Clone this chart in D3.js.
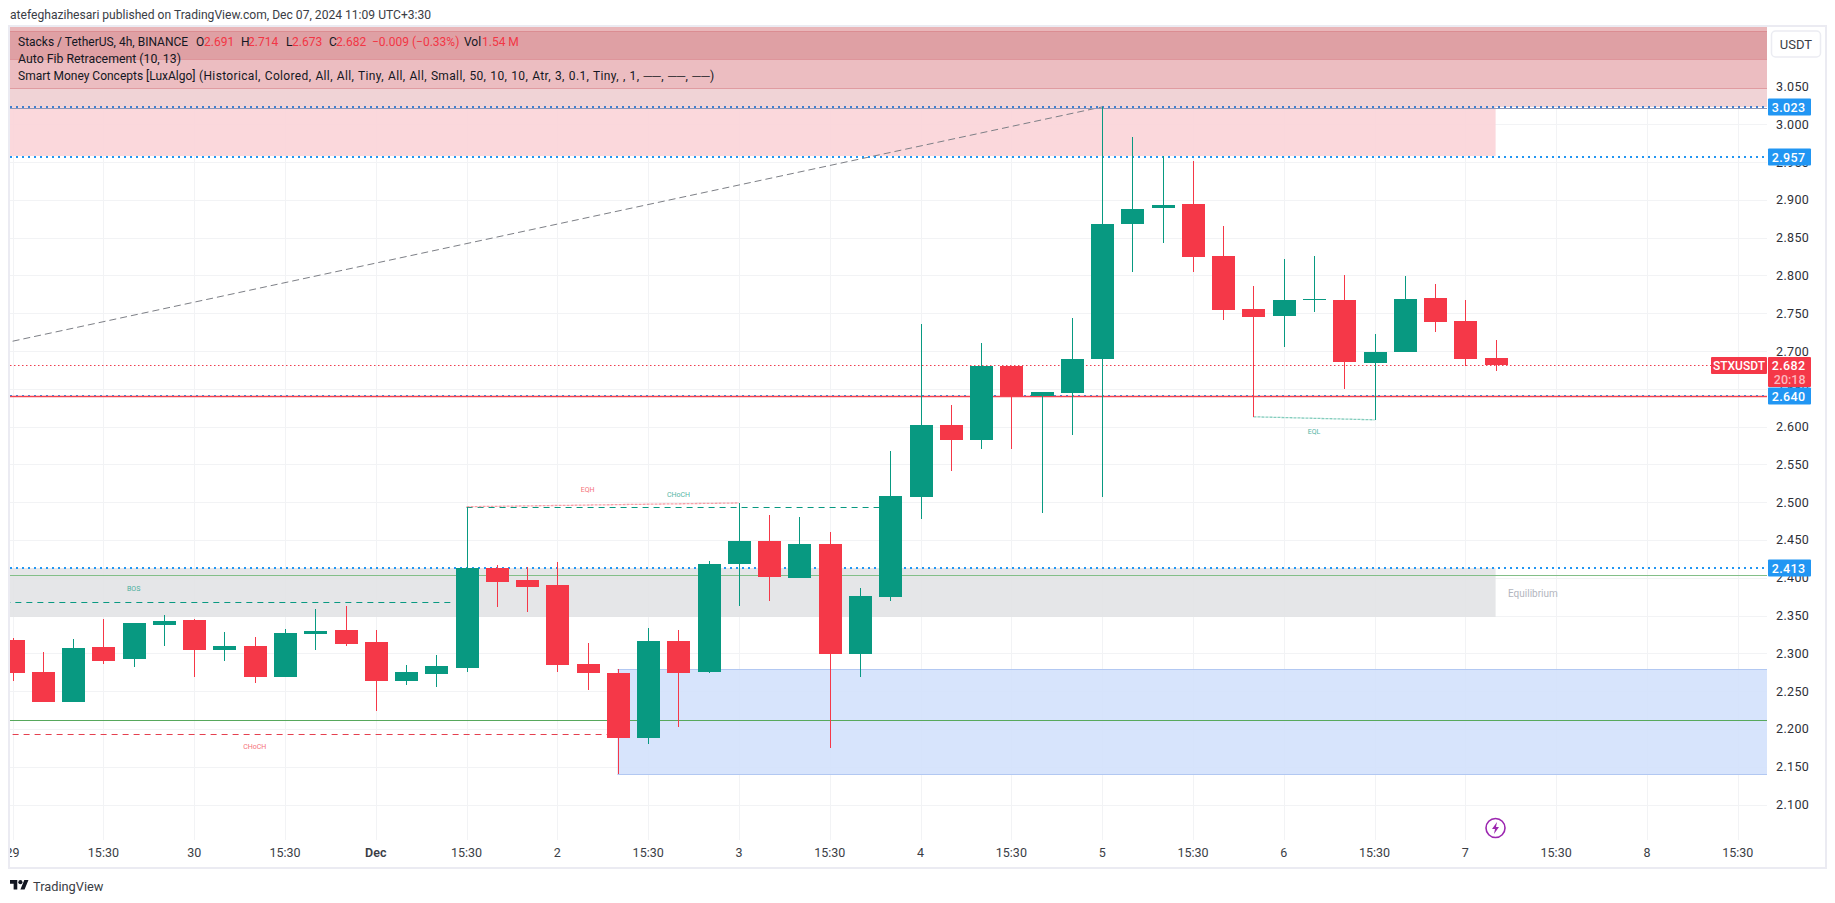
<!DOCTYPE html>
<html>
<head>
<meta charset="utf-8">
<script src="https://cdnjs.cloudflare.com/ajax/libs/d3/7.9.0/d3.min.js"></script>
<style>
html,body{margin:0;padding:0;background:#fff;overflow:hidden}
svg{display:block}
text{font-family:Roboto,"Noto Sans",sans-serif}
</style>
</head>
<body>
<svg id="c" width="1835" height="903"></svg>
<script>
// 4h candles, index 0 = Nov 29 03:30
const opens  = [2.318,2.275,2.236,2.308,2.293,2.338,2.344,2.304,2.310,2.269,2.326,2.331,2.315,2.263,2.273,2.281,2.413,2.397,2.391,2.286,2.274,2.188,2.316,2.275,2.418,2.449,2.400,2.445,2.299,2.375,2.507,2.602,2.582,2.680,2.641,2.645,2.690,2.868,2.889,2.895,2.826,2.756,2.746,2.768,2.768,2.684,2.699,2.770,2.740,2.691];
const highs  = [2.320,2.302,2.319,2.345,2.340,2.351,2.345,2.328,2.322,2.332,2.359,2.363,2.331,2.285,2.298,2.494,2.417,2.414,2.421,2.314,2.279,2.334,2.331,2.422,2.499,2.483,2.480,2.461,2.387,2.568,2.736,2.629,2.711,2.680,2.646,2.744,3.023,2.983,2.958,2.952,2.866,2.786,2.822,2.826,2.801,2.723,2.799,2.789,2.768,2.714];
const lows   = [2.263,2.236,2.236,2.286,2.282,2.310,2.269,2.290,2.261,2.269,2.304,2.310,2.224,2.258,2.256,2.275,2.361,2.355,2.275,2.252,2.140,2.180,2.203,2.274,2.363,2.369,2.400,2.175,2.269,2.369,2.478,2.541,2.570,2.570,2.486,2.589,2.507,2.805,2.843,2.805,2.741,2.613,2.705,2.752,2.650,2.609,2.699,2.725,2.680,2.673];
const closes = [2.274,2.236,2.307,2.290,2.340,2.343,2.304,2.310,2.269,2.327,2.330,2.312,2.263,2.275,2.283,2.413,2.394,2.388,2.285,2.274,2.188,2.316,2.274,2.418,2.449,2.401,2.445,2.299,2.376,2.508,2.602,2.582,2.680,2.641,2.646,2.690,2.868,2.888,2.893,2.825,2.754,2.745,2.768,2.769,2.686,2.699,2.769,2.739,2.690,2.682];

const priceTicks = [2.1,2.15,2.2,2.25,2.3,2.35,2.4,2.45,2.5,2.55,2.6,2.65,2.7,2.75,2.8,2.85,2.9,2.95,3.0,3.05];
const gridOnlyPrices = [3.1];
const timeTickIdx = [0,3,6,9,12,15,18,21,24,27,30,33,36,39,42,45,48,51,54,57];
const timeTickLabels = ["29","15:30","30","15:30","Dec","15:30","2","15:30","3","15:30","4","15:30","5","15:30","6","15:30","7","15:30","8","15:30"];

// zones: [top price, bottom price]
const upperBandEdges = [3.129,3.123,3.087,3.048,3.023];
const upperBandFills = ["#e8b2b6","#dd9a9e","#ebb9bd","#efd0d3"];
const premiumZone = [3.023,2.958];
const equilibriumZone = [2.413,2.348];
const demandZone = [2.279,2.140];
const levelLines = [3.023,2.957,2.640,2.413];
const levelLabels = ["3.023","2.957","2.640","2.413"];
const lastPrice = 2.682;
const green1 = 2.404, green2 = 2.212, redLine = 2.640;
const fibLine = [{i:0,p:2.713},{i:36,p:3.023}];
const bos = {i0:-1,i1:14.5,p:2.368};
const chochDown = {i0:0,i1:20,p:2.193};
const chochUp = {i0:15,i1:29,p:2.494};
const eqh = [{i:15,p:2.494},{i:24,p:2.499}];
const eql = [{i:41,p:2.613},{i:45,p:2.609}];
const zoneEndIdx = 49;
const demandStartIdx = 20;
const legendRow1 = ["Stacks / TetherUS, 4h, BINANCE","O","2.691","H","2.714","L","2.673","C","2.682","−0.009 (−0.33%)","Vol","1.54 M"];
const legendRow1Red = [false,false,true,false,true,false,true,false,true,true,false,true];
const legendRow1X = [18,196,204,241,248,286,292,329,336,372,464,482];

const L=10,R=1767,T=27,B=840;
const x=d3.scaleLinear().domain([0,49]).range([12.6,1495.6]);
const y=d3.scaleLinear().domain([3,2.1]).range([124.3,804.5]);
const svg=d3.select("#c");
const GREEN="#089981",RED="#f23645",RED2="#f53848",BLUE="#2196f3";

svg.append("defs").append("clipPath").attr("id","pane").append("rect").attr("x",L).attr("y",T).attr("width",R-L).attr("height",B-T);
svg.append("defs").append("clipPath").attr("id","timeclip").append("rect").attr("x",L).attr("y",B).attr("width",1825-L).attr("height",27);

// outer frame
svg.append("rect").attr("x",L-1).attr("y",T-1).attr("width",1825-L+2).attr("height",867-T+2).attr("fill","none").attr("stroke","#ebebf2").attr("stroke-width",2);

const pane=svg.append("g").attr("clip-path","url(#pane)");
const px=v=>Math.round(v)+.5;

// grid
pane.append("g").selectAll("line").data(priceTicks.concat(gridOnlyPrices)).join("line")
 .attr("x1",L).attr("x2",R).attr("y1",d=>px(y(d))).attr("y2",d=>px(y(d))).attr("stroke","#f2f3f5");
pane.append("g").selectAll("line").data(timeTickIdx).join("line")
 .attr("y1",T).attr("y2",B).attr("x1",d=>px(x(d))).attr("x2",d=>px(x(d))).attr("stroke","#f2f3f5");

// zones
const band=(g,top,bot,x0,x1,fill,op)=>g.append("rect").attr("x",x0).attr("width",x1-x0)
 .attr("y",Math.round(y(top))).attr("height",Math.round(y(bot))-Math.round(y(top))).attr("fill",fill).attr("fill-opacity",op);
upperBandFills.forEach((f,k)=>{band(pane,upperBandEdges[k],upperBandEdges[k+1],L,R,f,.94);});
[upperBandEdges[1],upperBandEdges[2],upperBandEdges[3]].forEach(p=>{
 pane.append("line").attr("x1",L).attr("x2",R).attr("y1",px(y(p))).attr("y2",px(y(p))).attr("stroke","#d9858a").attr("stroke-opacity",.7);
});
band(pane,premiumZone[0],premiumZone[1],L,x(zoneEndIdx),"#fbd5d9",.92);
band(pane,equilibriumZone[0],equilibriumZone[1],L,x(zoneEndIdx),"#e2e3e5",.9);
band(pane,demandZone[0],demandZone[1],x(demandStartIdx)-.5,R,"#d2e0fc",.88);
[demandZone[0],demandZone[1]].forEach(p=>{
 pane.append("line").attr("x1",x(demandStartIdx)-.5).attr("x2",R).attr("y1",px(y(p))).attr("y2",px(y(p))).attr("stroke","#b2c8f2");
});

// fib line
pane.append("path").datum(fibLine).attr("d",d3.line().x(d=>x(d.i)).y(d=>y(d.p))).attr("fill","none").attr("stroke","#7d7f86").attr("stroke-width",1).attr("stroke-dasharray","7 4");

// horizontal structure lines
const hline=(p,c,w,dash,x0=L,x1=R)=>pane.append("line").attr("x1",x0).attr("x2",x1).attr("y1",px(y(p))).attr("y2",px(y(p))).attr("stroke",c).attr("stroke-width",w).attr("stroke-dasharray",dash||null);
hline(green1,"#83bf88",1);
hline(green2,"#57a85c",1);
hline(bos.p,GREEN,1,"6 5",x(bos.i0),x(bos.i1));
hline(chochDown.p,"#e5404f",1,"6 5",x(chochDown.i0),x(chochDown.i1));
hline(chochUp.p,GREEN,1,"6 5",x(chochUp.i0),x(chochUp.i1));
pane.append("path").datum(eqh).attr("d",d3.line().x(d=>x(d.i)).y(d=>y(d.p))).attr("fill","none").attr("stroke","#f7a0a8").attr("stroke-width",1.3).attr("stroke-dasharray","3 1");
pane.append("path").datum(eql).attr("d",d3.line().x(d=>x(d.i)).y(d=>y(d.p))).attr("fill","none").attr("stroke","#83cdbd").attr("stroke-width",1.3).attr("stroke-dasharray","3 1");

// level lines
pane.append("line").attr("x1",L).attr("x2",R).attr("y1",px(y(3.023))+1).attr("y2",px(y(3.023))+1).attr("stroke","#8d97b8");
levelLines.forEach(p=>{
 pane.append("line").attr("x1",L).attr("x2",R).attr("y1",Math.round(y(p))).attr("y2",Math.round(y(p))).attr("stroke",p===3.023?"#3f7fd0":BLUE).attr("stroke-width",2).attr("stroke-dasharray","2 4");
});
hline(redLine,"#f4424f",1.4);
hline(lastPrice,"#ee3f50",1,"1.5 2.5");

// candles
const cd=opens.map((o,i)=>({i,o,h:highs[i],l:lows[i],c:closes[i]}));
const col=d=>d.c>=d.o?GREEN:RED2;
const cg=pane.append("g").attr("shape-rendering","crispEdges");
cg.selectAll("line").data(cd).join("line")
 .attr("x1",d=>px(x(d.i))).attr("x2",d=>px(x(d.i))).attr("y1",d=>y(d.h)).attr("y2",d=>y(d.l)).attr("stroke",col);
cg.selectAll("rect").data(cd).join("rect")
 .attr("x",d=>Math.round(x(d.i))-11).attr("width",23)
 .attr("y",d=>Math.round(y(Math.max(d.o,d.c))))
 .attr("height",d=>Math.max(1,Math.round(y(Math.min(d.o,d.c)))-Math.round(y(Math.max(d.o,d.c)))))
 .attr("fill",col);

// tiny labels
const tiny=(t,i,p,c)=>pane.append("text").attr("x",x(i)).attr("y",y(p)).attr("text-anchor","middle").attr("dominant-baseline","central").attr("font-size",7).attr("fill",c).attr("opacity",.72).text(t);
tiny("BOS",4,2.385,GREEN);
tiny("CHoCH",8,2.176,RED);
tiny("EQH",19,2.516,RED);
tiny("CHoCH",22,2.509,GREEN);
tiny("EQL",43,2.593,GREEN);
pane.append("text").attr("x",1508).attr("y",y(2.379)).attr("dominant-baseline","central").attr("font-size",10).attr("fill","#b2b5be").text("Equilibrium");

// axes
const yAxis=d3.axisRight(y).tickValues(priceTicks).tickFormat(d3.format(".3f")).tickSize(0).tickPadding(0);
const ya=svg.append("g").attr("transform","translate(1776,0)").call(yAxis);
ya.select(".domain").remove();
ya.selectAll("text").attr("font-size",12.5).attr("fill","#2e3038").attr("letter-spacing",".35").style("font-family","Roboto,sans-serif");

const xAxis=d3.axisBottom(x).tickValues(timeTickIdx).tickFormat((d,k)=>timeTickLabels[k]).tickSize(0).tickPadding(0);
const xa=svg.append("g").attr("clip-path","url(#timeclip)").append("g").attr("transform","translate(-.5,848)").call(xAxis);
xa.select(".domain").remove();
xa.selectAll("text").attr("font-size",12.5).attr("fill","#3a3d45").style("font-family","Roboto,sans-serif").attr("font-weight",d=>d===12?600:400);

// price tags
const tag=(p,t,fill)=>{const yy=Math.round(y(p));
 svg.append("rect").attr("x",1768).attr("y",yy-8.5).attr("width",43).attr("height",17).attr("rx",1).attr("fill",fill);
 svg.append("text").attr("x",1805.5).attr("y",yy).attr("text-anchor","end").attr("dominant-baseline","central").attr("font-size",12.5).attr("font-weight",500).attr("letter-spacing",".35").attr("fill","#fff").text(t);};
levelLines.forEach((p,k)=>tag(p,levelLabels[k],BLUE));
const ly=Math.round(y(lastPrice));
svg.append("rect").attr("x",1711).attr("y",ly-8).attr("width",56).attr("height",17).attr("rx",1).attr("fill",RED2);
svg.append("text").attr("x",1739).attr("y",ly+.5).attr("text-anchor","middle").attr("dominant-baseline","central").attr("font-size",12).attr("font-weight",500).attr("fill","#fff").text("STXUSDT");
svg.append("rect").attr("x",1768).attr("y",ly-8).attr("width",43).attr("height",30).attr("rx",1).attr("fill",RED2);
svg.append("text").attr("x",1805.5).attr("y",ly+.5).attr("text-anchor","end").attr("dominant-baseline","central").attr("font-size",12.5).attr("font-weight",500).attr("letter-spacing",".35").attr("fill","#fff").text(lastPrice.toFixed(3));
svg.append("text").attr("x",1805.5).attr("y",ly+14.5).attr("text-anchor","end").attr("dominant-baseline","central").attr("font-size",12.5).attr("font-weight",500).attr("fill","#fbb9bf").text("20:18");

// USDT button
svg.append("rect").attr("x",1771.5).attr("y",31).attr("width",49).attr("height",26).attr("rx",4).attr("fill","#fff").attr("stroke","#ebecf2").attr("stroke-width",1.5);
svg.append("text").attr("x",1796).attr("y",44.5).attr("text-anchor","middle").attr("dominant-baseline","central").attr("font-size",13).attr("fill","#3a3d45").text("USDT");

// header and legend
svg.append("text").attr("x",10).attr("y",15).attr("dominant-baseline","central").attr("font-size",12.1).attr("fill","#3a3d45").text("atefeghazihesari published on TradingView.com, Dec 07, 2024 11:09 UTC+3:30");
legendRow1.forEach((t,k)=>svg.append("text").attr("x",legendRow1X[k]).attr("y",42).attr("dominant-baseline","central").attr("font-size",12).attr("fill",legendRow1Red[k]?RED:"#131722").text(t));
svg.append("text").attr("x",18).attr("y",59).attr("dominant-baseline","central").attr("font-size",12.3).attr("fill","#131722").text("Auto Fib Retracement (10, 13)");
const l3=svg.append("text").attr("x",18).attr("y",76).attr("dominant-baseline","central").attr("font-size",12).attr("fill","#131722");
l3.append("tspan").text("Smart Money Concepts [LuxAlgo]");
l3.append("tspan").attr("x",199).attr("letter-spacing",".35").attr("word-spacing",".7").text("(Historical, Colored, All, All, Tiny, All, All, Small, 50, 10, 10, Atr, 3, 0.1, Tiny, , 1, ──, ──, ──)");

// lightning icon
const ic=svg.append("g").attr("transform","translate(1495.5,828)");
ic.append("circle").attr("r",9.5).attr("fill","#fff").attr("stroke","#9c27b0").attr("stroke-width",1.6);
ic.append("path").attr("d","M1.5,-6 L-3.5,1 L-0.5,1 L-1.5,6 L3.5,-1 L0.5,-1 Z").attr("fill","#9c27b0");

// logo
const lo=svg.append("g").attr("transform","translate(10,878) scale(.52)").attr("fill","#131722");
lo.append("path").attr("d","M14 22H7V11H0V4h14v18zM28 22h-8l7.5-18h8L28 22z");
lo.append("circle").attr("cx",20).attr("cy",8).attr("r",4);
svg.append("text").attr("x",33).attr("y",886).attr("dominant-baseline","central").attr("font-size",12.8).attr("fill","#3a3d45").text("TradingView");
</script>
</body>
</html>
